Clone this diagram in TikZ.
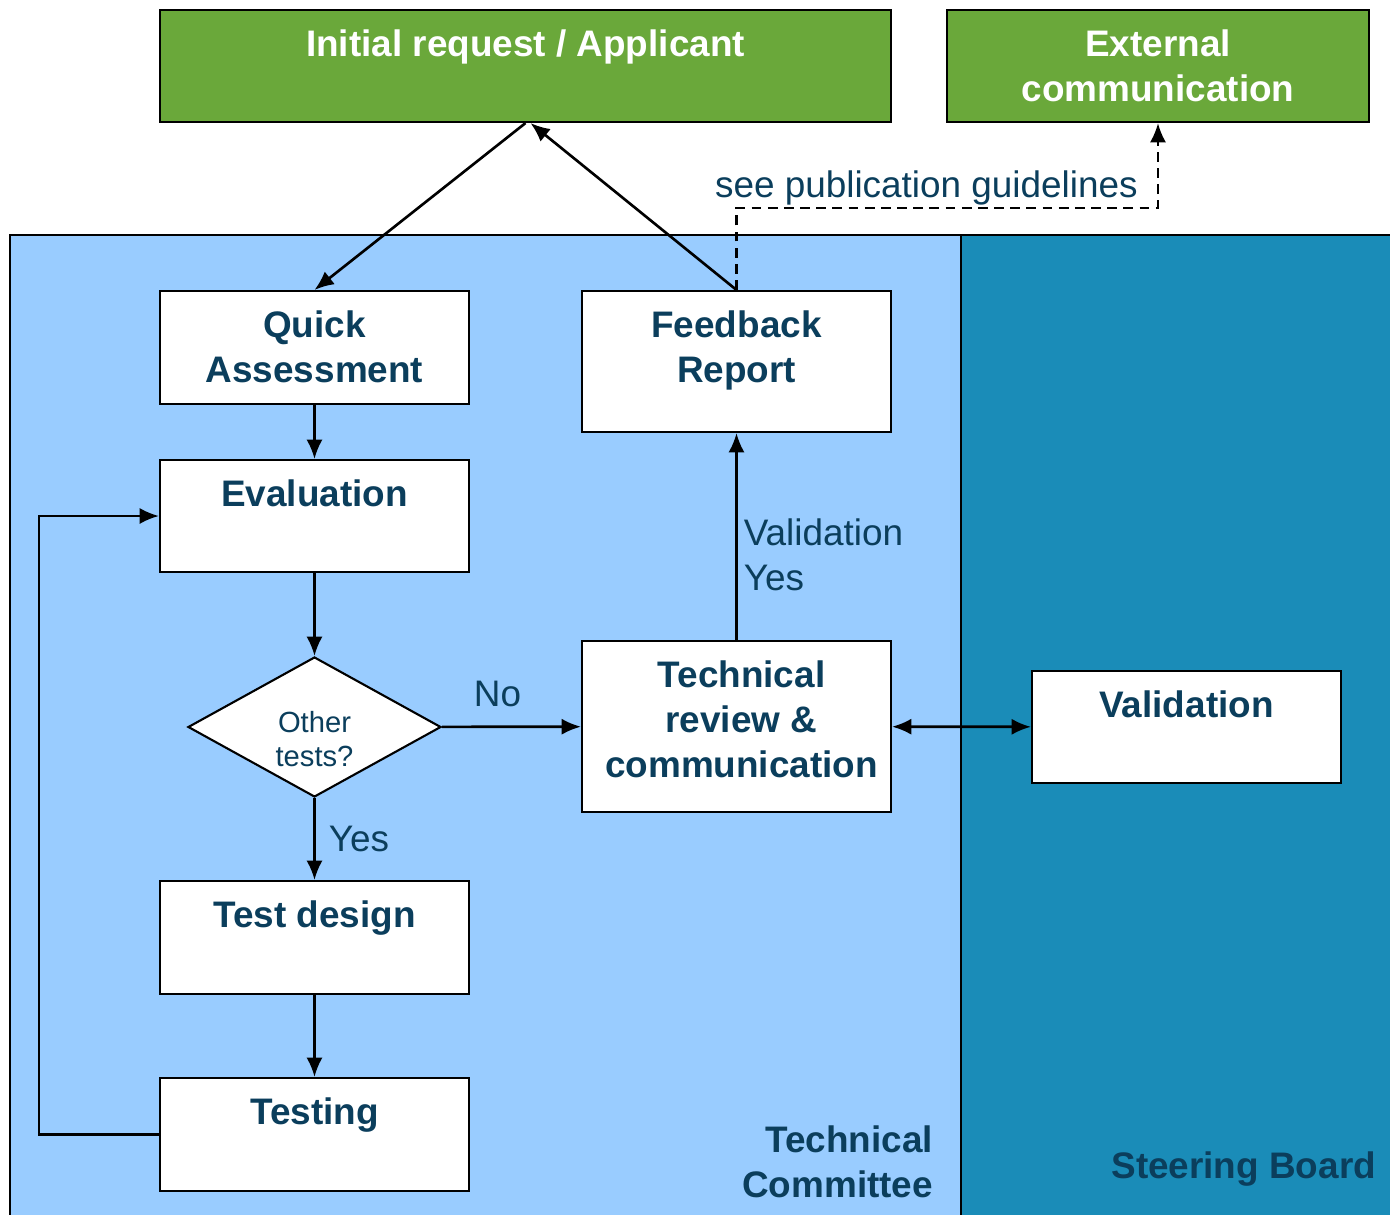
\documentclass[tikz,border=0pt]{standalone}
\usepackage{fontspec}
\setmainfont{Liberation Sans}
\usetikzlibrary{shapes.geometric,arrows.meta}
\definecolor{NavyText}{RGB}{11,62,92}
\definecolor{LeafGreen}{RGB}{106,168,58}
\definecolor{PaleBlue}{RGB}{153,204,255}
\definecolor{BoardBlue}{RGB}{26,140,184}

\begin{document}
\begin{tikzpicture}[>={Latex[length=5.5pt,width=4.6pt]}, line width=0.6pt,
              box/.style={draw, fill=white, minimum width=3.09cm, inner sep=0pt},
              greenbox/.style={box, fill=LeafGreen},
              boxtext/.style={anchor=north, yshift=-0.195cm, inner sep=0pt, align=center, text=NavyText, font=\fontsize{10.5}{12.8}\selectfont\bfseries},
              greentext/.style={boxtext, text=white},
              decision/.style={draw, fill=white, diamond, inner sep=0pt, minimum width=2.53cm, minimum height=1.40cm},
              dectext/.style={anchor=north, yshift=-0.54cm, inner sep=0pt, align=center, text=NavyText, font=\fontsize{8.3}{9.9}\selectfont},
              note/.style={inner sep=0pt, text=NavyText, font=\fontsize{10.5}{12.8}\selectfont},
              region/.style={note, font=\fontsize{10.5}{12.8}\selectfont\bfseries},
              link/.style={line width=0.75pt}]
              \useasboundingbox (0,0) rectangle (13.9,-12.15);
              \filldraw[fill=PaleBlue] (0.1,-12.4) rectangle (9.61,-2.35);
              \filldraw[fill=BoardBlue] (9.61,-12.4) rectangle (14.1,-2.35);
              \node[greenbox, minimum width=7.31cm, minimum height=1.12cm, label={[greentext]north:Initial request / Applicant}] (init) at (5.255,-0.66) {};
              \node[greenbox, minimum width=4.22cm, minimum height=1.12cm, label={[greentext]north:External\\communication}] (extcom) at (11.58,-0.66) {};
              \node[box, minimum height=1.13cm, label={[boxtext]north:Quick\\Assessment}] (quick) at (3.145,-3.475) {};
              \node[box, minimum height=1.12cm, label={[boxtext]north:Evaluation}] (eval) at (3.145,-5.16) {};
              \node[decision, label={[dectext]north:Other\\tests?}] (tests) at (3.145,-7.27) {};
              \node[box, minimum height=1.13cm, label={[boxtext]north:Test design}] (design) at (3.145,-9.375) {};
              \node[box, minimum height=1.13cm, label={[boxtext]north:Testing}] (testing) at (3.145,-11.345) {};
              \node[box, minimum height=1.41cm, label={[boxtext]north:Feedback\\Report}] (report) at (7.365,-3.615) {};
              \node[box, minimum height=1.71cm, label={[boxtext, xshift=0.05cm]north:Technical\\review \&\\communication}] (review) at (7.365,-7.265) {};
              \node[box, minimum height=1.12cm, label={[boxtext]north:Validation}] (valid) at (11.865,-7.27) {};
              \node[note, anchor=base west] (pubnote) at (7.14,-1.97) {see publication guidelines};
              \node[region, align=right, anchor=east] (tclabel) at (9.34,-11.62) {Technical\\Committee};
              \node[region, anchor=base east] (sblabel) at (13.77,-11.78) {Steering Board};
              \draw[link, ->] (init.south) -- (quick.north);
              \draw[link, ->] (report.north) -- ([xshift=0.05cm]init.south);
              \draw[link, ->] (quick) -- (eval);
              \draw[link, ->] (eval) -- (tests);
              \draw[link, ->] (tests) -- node[note, right=0.13cm] (yes) {Yes} (design);
              \draw[link, ->] (tests) -- node[note, above=0.19cm, pos=0.4] (no) {No} (review);
              \draw[link, ->] (design) -- (testing);
              \draw[link, ->] (testing.west) -- ++(-1.2,0) |- (eval.west);
              \draw[link, ->] (review) -- node[note, right=0.06cm, pos=0.41, align=left] (valyes) {Validation\\Yes} (report);
              \draw[link, <->] (review) -- (valid);
              \draw[link, ->, dash pattern=on 2.8pt off 1.8pt] (report.north) |- ([yshift=-0.85cm]extcom.south) -- (extcom.south);
            \end{tikzpicture}
\end{document}
